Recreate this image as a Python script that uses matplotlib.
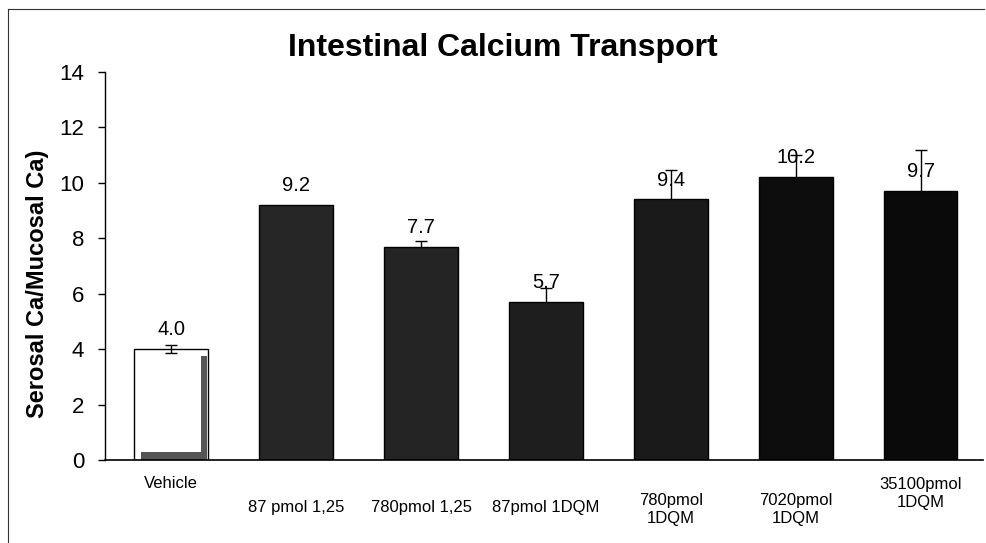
import matplotlib
matplotlib.use("Agg")
import matplotlib.pyplot as plt
from matplotlib.lines import Line2D
import numpy as np

plt.rcParams['font.family'] = ['Liberation Sans', 'DejaVu Sans']

# Data
groups = ['Vehicle', '87 pmol 1,25', '780pmol 1,25', '87pmol 1DQM',
          '780pmol\n1DQM', '7020pmol\n1DQM', '35100pmol\n1DQM']
transport = [4.0, 9.2, 7.7, 5.7, 9.4, 10.2, 9.7]
sem = [0.15, 0.0, 0.2, 0.5, 1.05, 0.8, 1.5]
value_labels = ['4.0', '9.2', '7.7', '5.7', '9.4', '10.2', '9.7']

# styling
bar_colors = ['white', '#262626', '#242424', '#1e1e1e', '#1a1a1a', '#0d0d0d', '#0a0a0a']
label_drop = [17, 34, 34, 34, 35.5, 35.5, 24]   # points below the axis (staggered like the original)

fig = plt.figure(figsize=(9.87, 5.43), dpi=100)
ax = fig.add_axes([0.1064, 0.1529, 0.8896, 0.7145])

x = np.arange(len(groups))
width = 0.59

ax.bar(x, transport, width, color=bar_colors, edgecolor='black', linewidth=1.0, zorder=2)

# error bars: behind the dark bars, in front of the white one
for xi, v, e, c in zip(x, transport, sem, bar_colors):
    if e <= 0:
        continue
    ax.errorbar(xi, v, yerr=e, fmt='none', ecolor='black', elinewidth=1.0,
                capsize=4.5, capthick=1.0, zorder=3 if c == 'white' else 1.5)

# the 3D-ish shading inside the white vehicle bar
ax.bar(x[0] + width / 2 - 0.03, transport[0] * 0.94, 0.05, color='#555555', zorder=2.5)
ax.bar(x[0] + 0.02, 0.28, width - 0.06, color='#555555', zorder=2.5)

# value labels above bars
for xi, v, lab in zip(x, transport, value_labels):
    ax.text(xi, v + 0.7, lab, ha='center', va='center', fontsize=14.5, zorder=4)

# category labels under the axis
ax.set_xticks(x)
ax.set_xticklabels([])
ax.tick_params(axis='x', length=0)
for xi, lab, dy in zip(x, groups, label_drop):
    ax.annotate(lab, xy=(xi, 0), xycoords=('data', 'axes fraction'),
                xytext=(0, -dy), textcoords='offset points',
                ha='center', va='center', fontsize=12, linespacing=1.25)

ax.set_xlim(-0.53, 6.5)
ax.set_ylim(0, 14)
ax.set_yticks(np.arange(0, 15, 2))
ax.tick_params(axis='y', direction='out', length=5, width=1, labelsize=16, pad=10)

ax.spines['top'].set_visible(False)
ax.spines['right'].set_visible(False)
ax.spines['left'].set_linewidth(1.0)
ax.spines['bottom'].set_linewidth(1.2)

fig.text(38 / 987, 1 - 284 / 543, 'Serosal Ca/Mucosal Ca)', rotation=90,
         ha='center', va='center', fontsize=17, fontweight='bold')

fig.text(0.509, 0.912, 'Intestinal Calcium Transport', ha='center', va='center',
         fontsize=23, fontweight='bold')

# outer frame of the scanned chart (top and left edges only visible)
fl, ft, fr = 8 / 987, 1 - 9 / 543, 984 / 987
fig.add_artist(Line2D([fl, fr], [ft, ft], transform=fig.transFigure, color='#333333', lw=0.8))
fig.add_artist(Line2D([fl, fl], [0, ft], transform=fig.transFigure, color='#333333', lw=0.8))

plt.savefig('out.png', dpi=100, facecolor='white')
plt.close()
